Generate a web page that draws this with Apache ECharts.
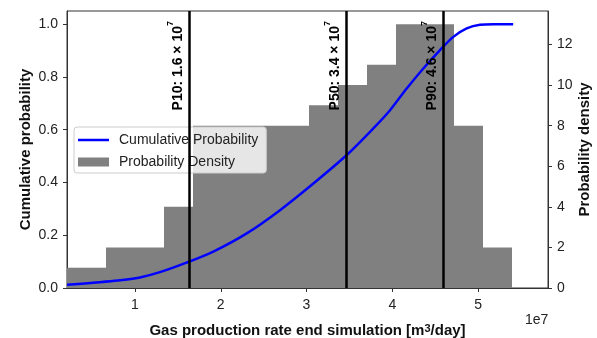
<!DOCTYPE html>
<html>
<head>
<meta charset="utf-8">
<script src="https://cdn.jsdelivr.net/npm/echarts@6/dist/echarts.min.js"></script>
<style>html,body{margin:0;padding:0;background:#fff}#c{width:597px;height:338px}</style>
</head>
<body>
<div id="c"></div>
<script>
// Histogram (x in units of 1e7 m3/day)
var binEdges = [-0.014, 0.324, 0.662, 1.000, 1.338, 1.676, 2.015, 2.353, 2.691, 3.029, 3.367, 3.705, 4.043, 4.381, 4.719, 5.057, 5.396];
var binHeights = [1, 1, 2, 2, 4, 8, 8, 8, 8, 9, 10, 11, 13, 13, 8, 2];
// Cumulative probability curve
var cumX = [0.207, 0.514, 0.80, 1.058, 1.30, 1.60, 1.913, 2.303, 2.691, 3.080, 3.469, 3.779, 3.974, 4.168, 4.362, 4.557, 4.712, 4.868, 5.023, 5.18, 5.41];
var cumY = [0.012, 0.020, 0.028, 0.040, 0.061, 0.096, 0.138, 0.207, 0.295, 0.396, 0.504, 0.605, 0.674, 0.756, 0.832, 0.902, 0.952, 0.984, 0.998, 1.0, 1.0];
// Percentiles
var pctNames = ['P10', 'P50', 'P90'];
var pctValues = [1.633, 3.457, 4.595];
var pctLabels = ['1.6', '3.4', '4.6'];
// Ticks
var xTicks = [1, 2, 3, 4, 5];
var yLeftTicks = [0, 0.2, 0.4, 0.6, 0.8, 1.0];
var yRightTicks = [0, 2, 4, 6, 8, 10, 12];

var FONT = 'Liberation Sans, Arial, sans-serif';
var AX = '#333';
var chart = echarts.init(document.getElementById('c'), null, {renderer: 'canvas'});

var histData = binHeights.map(function (h, i) { return [binEdges[i], binEdges[i + 1], h]; });
var cumData = cumX.map(function (x, i) { return [x, cumY[i]]; });
var markData = pctValues.map(function (v, i) {
  return {
    xAxis: v,
    label: {
      formatter: '{a|' + pctNames[i] + ': ' + pctLabels[i] + ' × 10}{s|7}'
    }
  };
});

var option = {
  animation: false,
  backgroundColor: '#fff',
  grid: {left: 67, right: 49, top: 11, bottom: 50, containLabel: false, outerBoundsMode: 'none',
    show: true, borderColor: AX, borderWidth: 1, backgroundColor: 'transparent'},
  legend: {
    orient: 'vertical', left: 74, top: 127,
    itemWidth: 36, itemHeight: 9, itemGap: 8,
    padding: [6, 8, 4, 4],
    backgroundColor: 'rgba(255,255,255,0.8)', borderColor: '#cccccc', borderWidth: 1, borderRadius: 3,
    textStyle: {fontFamily: FONT, fontSize: 14, color: '#222'},
    data: [
      {name: 'Cumulative Probability', icon: 'path://M0,0L0,0M0,3.3H31V5.7H0ZM36,9L36,9', itemStyle: {color: '#0000ff'}},
      {name: 'Probability Density', icon: 'path://M0,0H31V9H0ZM36,9L36,9', itemStyle: {color: '#808080'}}
    ]
  },
  xAxis: {
    type: 'value', min: 0.207, max: 5.816,
    name: 'Gas production rate end simulation [m{sup|3}/day]',
    nameLocation: 'middle', nameGap: 35, nameMoveOverlap: false,
    nameTextStyle: {fontFamily: FONT, fontSize: 15, fontWeight: 'bold', color: '#111',
      rich: {sup: {fontFamily: FONT, fontSize: 11, fontWeight: 'bold', color: '#111', verticalAlign: 'top', lineHeight: 10}}},
    axisLine: {show: true, onZero: false, lineStyle: {color: AX, width: 1}},
    axisTick: {show: true, length: 4, lineStyle: {color: AX}, customValues: xTicks},
    axisLabel: {fontFamily: FONT, fontSize: 14, color: '#222', margin: 10, customValues: xTicks, formatter: function (v) { return String(Math.round(v)); }},
    splitLine: {show: false}
  },
  yAxis: [{
    type: 'value', min: 0, max: 1.05, position: 'left',
    name: 'Cumulative probability', nameLocation: 'middle', nameGap: 34, nameMoveOverlap: false,
    nameTextStyle: {fontFamily: FONT, fontSize: 15, fontWeight: 'bold', color: '#111'},
    axisLine: {show: true, lineStyle: {color: AX, width: 1}},
    axisTick: {show: true, length: 4, lineStyle: {color: AX}, customValues: yLeftTicks},
    axisLabel: {fontFamily: FONT, fontSize: 14, color: '#222', margin: 9, customValues: yLeftTicks, formatter: function (v) { return v.toFixed(1); }},
    splitLine: {show: false}
  }, {
    type: 'value', min: 0, max: 13.65, position: 'right',
    name: 'Probability density', nameLocation: 'middle', nameGap: 29, nameMoveOverlap: false,
    nameRotate: 90,
    nameTextStyle: {fontFamily: FONT, fontSize: 15, fontWeight: 'bold', color: '#111'},
    axisLine: {show: true, lineStyle: {color: AX, width: 1}},
    axisTick: {show: true, length: 4, lineStyle: {color: AX}, customValues: yRightTicks},
    axisLabel: {fontFamily: FONT, fontSize: 14, color: '#222', margin: 9, customValues: yRightTicks},
    splitLine: {show: false}
  }],
  graphic: [{
    type: 'text', left: 525, top: 313, z: 100,
    style: {text: '1e7', fontFamily: FONT, fontSize: 14, fill: '#222'}
  }],
  series: [{
    name: 'Probability Density', type: 'custom', xAxisIndex: 0, yAxisIndex: 1, z: 1,
    itemStyle: {color: '#808080'},
    data: histData,
    encode: {x: [0, 1], y: 2},
    renderItem: function (params, api) {
      var p0 = api.coord([api.value(0), api.value(2)]);
      var p1 = api.coord([api.value(1), 0]);
      var x0 = Math.round(p0[0]), x1 = Math.round(p1[0]);
      var rect = echarts.graphic.clipRectByRect(
        {x: x0, y: p0[1], width: x1 - x0, height: p1[1] - p0[1]},
        {x: params.coordSys.x, y: params.coordSys.y, width: params.coordSys.width, height: params.coordSys.height});
      if (!rect) return;
      return {type: 'rect', shape: rect, style: {fill: '#808080'}};
    }
  }, {
    name: 'Cumulative Probability', type: 'line', xAxisIndex: 0, yAxisIndex: 0, z: 3,
    data: cumData, smooth: 0.3, symbol: 'none',
    lineStyle: {color: '#0000ff', width: 2.5},
    itemStyle: {color: '#0000ff'},
    markLine: {
      silent: true, symbol: ['none', 'none'], animation: false,
      lineStyle: {color: '#000', width: 2.5, type: 'solid'},
      label: {
        show: true, position: 'insideEndTop', distance: [10, 4],
        rich: {
          a: {fontFamily: FONT, fontSize: 14, fontWeight: 'bold', color: '#000', lineHeight: 19, verticalAlign: 'bottom'},
          s: {fontFamily: FONT, fontSize: 9, fontWeight: 'bold', color: '#000', lineHeight: 9, verticalAlign: 'top'}
        }
      },
      data: markData
    }
  }]
};
chart.setOption(option);
</script>
</body>
</html>
